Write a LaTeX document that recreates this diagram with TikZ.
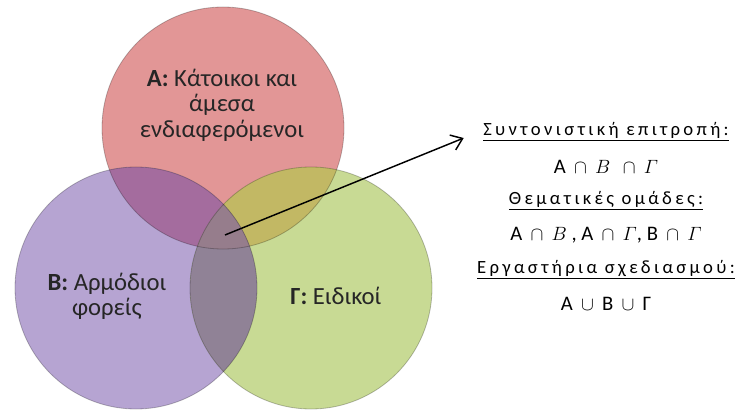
\documentclass[tikz,border=0pt]{standalone}
\usepackage{fontspec}
\setmainfont{Carlito}
\newfontfamily\spaced{Carlito}[LetterSpace=18]
\usetikzlibrary{arrows.meta, positioning}
\definecolor{colA}{RGB}{226,150,150}
\definecolor{colB}{RGB}{182,164,210}
\definecolor{colG}{RGB}{200,218,148}
\definecolor{colAB}{RGB}{164,108,158}
\definecolor{colAG}{RGB}{194,184,100}
\definecolor{colBG}{RGB}{144,130,150}
\definecolor{colABG}{RGB}{150,125,140}
\newcommand{\capop}{\hspace{0.4em}$\cap$\hspace{0.4em}}
\newcommand{\cupop}{\hspace{0.4em}$\cup$\hspace{0.4em}}
\tikzstyle{rim} = [draw=black, draw opacity=0.25, line width=0.6pt]
\tikzstyle{setlabel} = [align=center, text=black!85, font=\fontsize{18.5}{19}\selectfont]
\tikzstyle{heading} = [font=\fontsize{14}{16}\selectfont\spaced]
\tikzstyle{setline} = [font=\fontsize{15.5}{17}\selectfont]
\tikzstyle{arrow} = [line width=1.1pt, -{Straight Barb[length=8pt,width=12pt]}]
\begin{document}
\begin{tikzpicture}[x=0.75pt, y=-0.75pt, node distance=25.8pt]
\useasboundingbox (0,0) rectangle (740,410);
\def\rad{90.75pt}

%% CIRCLES

\coordinate (A) at (223,128);
\coordinate (B) at (136,288);
\coordinate (G) at (311,288);
\fill [colA] (A) circle [radius=\rad];
\fill [colB] (B) circle [radius=\rad];
\fill [colG] (G) circle [radius=\rad];
\begin{scope}
  \clip (A) circle [radius=\rad];
  \fill [colAB] (B) circle [radius=\rad];
  \fill [colAG] (G) circle [radius=\rad];
\end{scope}
\begin{scope}
  \clip (B) circle [radius=\rad];
  \fill [colBG] (G) circle [radius=\rad];
  \clip (A) circle [radius=\rad];
  \fill [colABG] (G) circle [radius=\rad];
\end{scope}
\draw [rim] (A) circle [radius=\rad];
\draw [rim] (B) circle [radius=\rad];
\draw [rim] (G) circle [radius=\rad];

\node (A_label) [setlabel] at (222,105) {\textbf{Α:} Κάτοικοι και\\άμεσα\\ενδιαφερόμενοι};
\node (B_label) [setlabel] at (107,296) {\textbf{Β:} Αρμόδιοι\\φορείς};
\node (G_label) [setlabel] at (336,296) {\textbf{Γ:} Ειδικοί};

%% GROUPS

\node (coord) [heading] at (606,132) {\underline{Συντονιστική επιτροπή:}};
\node (coord_set) [setline, below of=coord] {Α\capop$B$\hspace{0.2em}\capop$\mathnormal{\Gamma}$};
\node (theme) [heading, below of=coord_set] {\underline{Θεματικές ομάδες:}};
\node (theme_set) [setline, below of=theme] {Α\capop$B$ , Α\capop$\mathnormal{\Gamma}$, Β\capop$\mathnormal{\Gamma}$};
\node (work) [heading, below of=theme_set] {\underline{Εργαστήρια σχεδιασμού:}};
\node (work_set) [setline, below of=work] {Α\cupop Β\cupop Γ};

%% ARROW

\coordinate (core) at (225,235);
\draw [arrow, shorten >=12pt] (core) -- (coord.west);

\end{tikzpicture}
\end{document}
